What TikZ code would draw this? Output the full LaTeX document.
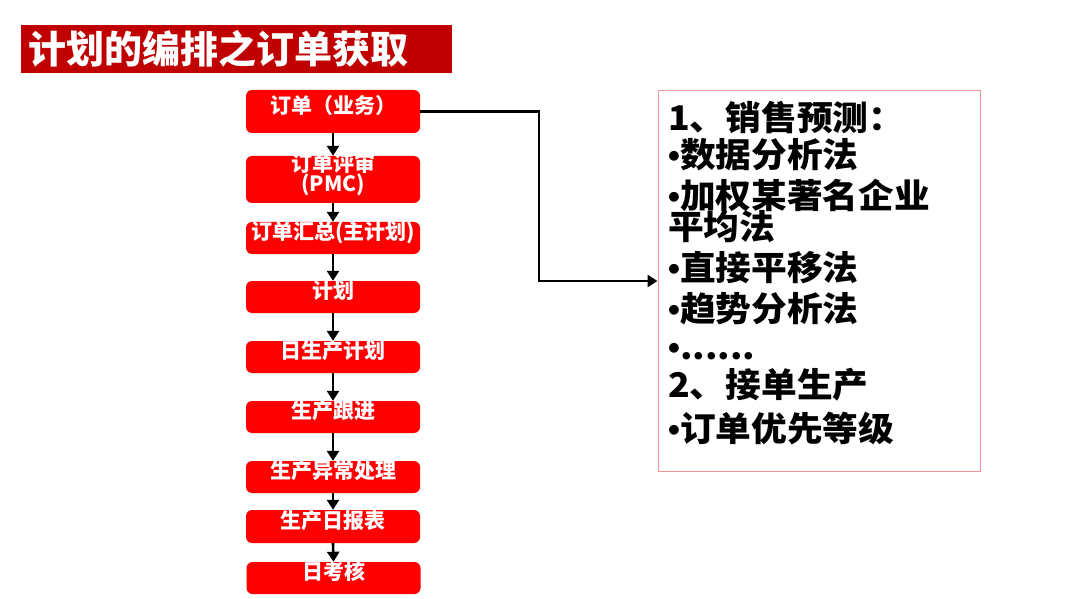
\documentclass[tikz,border=0pt]{standalone}
\usepackage{fontspec}
\setmainfont{Noto Sans CJK SC}
\newfontfamily\widecjk{Noto Sans CJK SC}[FakeStretch=1.05]
\newfontfamily\latinfont{Liberation Sans}
\usetikzlibrary{arrows.meta,calc}
\definecolor{boxred}{RGB}{255,0,0}
\definecolor{titlered}{RGB}{192,0,0}
\definecolor{framepink}{RGB}{240,150,150}
\newcommand{\bul}{{\latinfont\bfseries •}}
\begin{document}
\begin{tikzpicture}[x=1pt,y=-1pt,
  flowbox/.style={fill=boxred, rounded corners=6pt, minimum width=174pt, text=white,
    font=\fontsize{21}{22}\selectfont\bfseries, text height=0.8em, text depth=0.44em, inner sep=0pt},
  arr/.style={line width=2.6pt, -{Triangle[length=10pt,width=12pt]}},
  bodytext/.style={anchor=base west, inner sep=0pt, font=\widecjk\fontsize{34}{36}\selectfont\bfseries}
]
\useasboundingbox (0,0) rectangle (1080,599);
\fill[white] (0,0) rectangle (1080,599);

\node[fill=titlered, minimum width=431pt, minimum height=48pt, inner xsep=7pt, inner ysep=0pt,
  text width=417pt, align=left, anchor=west, text=white,
  font=\fontsize{38}{40}\selectfont\bfseries] (title) at (21,49) {计划的编排之订单获取};

\node[flowbox, minimum height=43pt] (b1) at (333,111.5) {订单（业务）};
\node[flowbox, minimum height=47pt] (b2) at (333,179.5) {};
\node[inner sep=0pt, text=white, align=center, font=\fontsize{21}{20}\selectfont\bfseries] (b2t) at (333,175) {订单评审\\(PMC)};
\node[flowbox, minimum height=32pt] (b3) at (333,238) {订单汇总(主计划)};
\node[flowbox, minimum height=32pt] (b4) at (333,297) {计划};
\node[flowbox, minimum height=32pt] (b5) at (333,357) {日生产计划};
\node[flowbox, minimum height=32pt] (b6) at (333,417) {生产跟进};
\node[flowbox, minimum height=32pt] (b7) at (333,477) {生产异常处理};
\node[flowbox, minimum height=33pt] (b8) at (333,526.5) {生产日报表};
\node[flowbox, minimum height=32pt] (b9) at (333.5,578) {日考核};

\draw[arr] (b1.south) -- (b2.north);
\draw[arr] (b2.south) -- (b3.north);
\draw[arr] (b3.south) -- (b4.north);
\draw[arr] (b4.south) -- (b5.north);
\draw[arr] (b5.south) -- (b6.north);
\draw[arr] (b6.south) -- (b7.north);
\draw[arr] (b7.south) -- (b8.north);
\draw[arr] (b8.south) -- (b9.north);

\node[draw=framepink, line width=1pt, minimum width=322pt, minimum height=380pt, inner sep=0pt] (rbox) at (819,281) {};
\coordinate (turn) at (539,111.5);
\draw[arr] (b1.east) -- (turn) -- (turn |- rbox.west) -- (rbox.west);

\node[bodytext] (t1) at (668,131) {1、销售预测：};
\node[bodytext] (t2) at (668,168) {\bul 数据分析法};
\node[bodytext] (t3) at (668,208) {\bul 加权某著名企业};
\node[bodytext] (t4) at (668,240) {平均法};
\node[bodytext] (t5) at (668,280) {\bul 直接平移法};
\node[bodytext] (t6) at (668,321) {\bul 趋势分析法};
\node[bodytext] (t7) at (668,359) {\bul ......};
\node[bodytext] (t8) at (668,397) {2、接单生产};
\node[bodytext] (t9) at (668,441) {\bul 订单优先等级};
\end{tikzpicture}
\end{document}
